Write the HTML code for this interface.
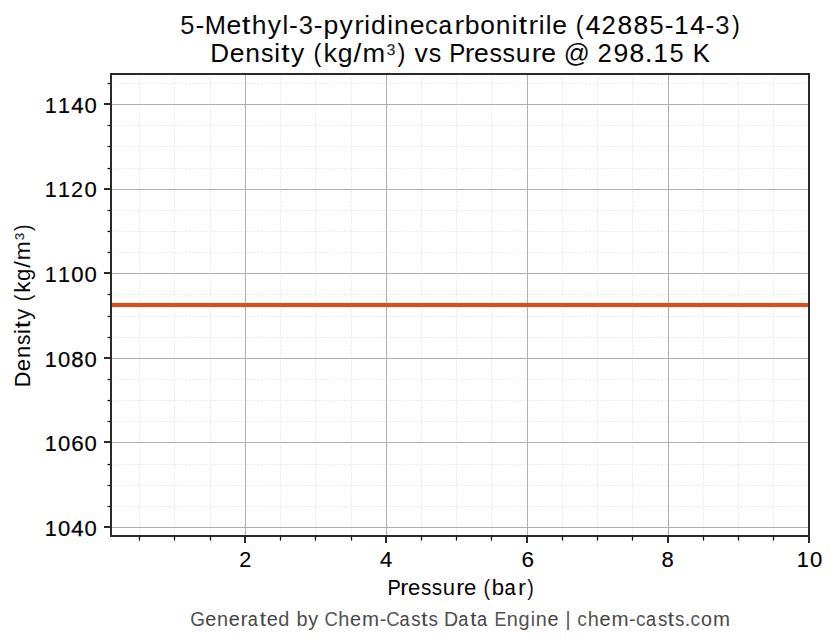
<!DOCTYPE html>
<html><head><meta charset="utf-8"><title>5-Methyl-3-pyridinecarbonitrile Density vs Pressure</title>
<style>
html,body{margin:0;padding:0;background:#fff;width:836px;height:644px;overflow:hidden}
svg{display:block}
</style></head><body>
<svg width="836" height="644" viewBox="0 0 836 644">
<rect width="836" height="644" fill="#fff"/>
<path d="M139.5 536.3V74.3 M174.5 536.3V74.3 M210.5 536.3V74.3 M280.5 536.3V74.3 M315.5 536.3V74.3 M351.5 536.3V74.3 M421.5 536.3V74.3 M456.5 536.3V74.3 M491.5 536.3V74.3 M562.5 536.3V74.3 M597.5 536.3V74.3 M632.5 536.3V74.3 M703.5 536.3V74.3 M738.5 536.3V74.3 M773.5 536.3V74.3" stroke="#dddddd" stroke-width="0.94" stroke-dasharray="0.9375 1.546875" stroke-dashoffset="1.0" fill="none"/>
<path d="M111.04 83.5H808.54 M111.04 125.5H808.54 M111.04 146.5H808.54 M111.04 168.5H808.54 M111.04 210.5H808.54 M111.04 231.5H808.54 M111.04 252.5H808.54 M111.04 294.5H808.54 M111.04 316.5H808.54 M111.04 337.5H808.54 M111.04 379.5H808.54 M111.04 400.5H808.54 M111.04 421.5H808.54 M111.04 464.5H808.54 M111.04 485.5H808.54 M111.04 506.5H808.54" stroke="#dddddd" stroke-width="0.94" stroke-dasharray="0.9375 1.546875" stroke-dashoffset="0.53" fill="none"/>
<path d="M245.5 75V535 M386.5 75V535 M527.5 75V535 M668.5 75V535 M112 104.5H808 M112 189.5H808 M112 273.5H808 M112 358.5H808 M112 442.5H808 M112 527.5H808" stroke="#b0b0b0" stroke-width="1" fill="none"/>
<path d="M112 302h696v1h-696z M112 307h696v1h-696z" fill="#d5501c" fill-opacity="0.0857"/>
<rect x="112" y="303" width="696" height="4" fill="#d5501c"/>
<path d="M110 73h700v2h-700z M110 535h700v2h-700z M110 75h2v460h-2z M808 75h2v460h-2z" fill="#2a2a2a"/>
<path d="M104 103h6v2h-6z M104 188h6v2h-6z M104 272h6v2h-6z M104 357h6v2h-6z M104 441h6v2h-6z M104 526h6v2h-6z M244 537h2v6h-2z M385 537h2v6h-2z M526 537h2v6h-2z M667 537h2v6h-2z M808 537h2v6h-2z" fill="#2a2a2a"/>
<path d="M108 83h2v1h-2z M108 125h2v1h-2z M108 146h2v1h-2z M108 168h2v1h-2z M108 210h2v1h-2z M108 231h2v1h-2z M108 252h2v1h-2z M108 294h2v1h-2z M108 316h2v1h-2z M108 337h2v1h-2z M108 379h2v1h-2z M108 400h2v1h-2z M108 421h2v1h-2z M108 464h2v1h-2z M108 485h2v1h-2z M108 506h2v1h-2z M139 537h1v3h-1z M174 537h1v3h-1z M210 537h1v3h-1z M280 537h1v3h-1z M315 537h1v3h-1z M351 537h1v3h-1z M421 537h1v3h-1z M456 537h1v3h-1z M491 537h1v3h-1z M562 537h1v3h-1z M597 537h1v3h-1z M632 537h1v3h-1z M703 537h1v3h-1z M738 537h1v3h-1z M773 537h1v3h-1z" fill="#000"/>
<path d="M107 83h1v1h-1z M107 125h1v1h-1z M107 146h1v1h-1z M107 168h1v1h-1z M107 210h1v1h-1z M107 231h1v1h-1z M107 252h1v1h-1z M107 294h1v1h-1z M107 316h1v1h-1z M107 337h1v1h-1z M107 379h1v1h-1z M107 400h1v1h-1z M107 421h1v1h-1z M107 464h1v1h-1z M107 485h1v1h-1z M107 506h1v1h-1z M139 540h1v1h-1z M174 540h1v1h-1z M210 540h1v1h-1z M280 540h1v1h-1z M315 540h1v1h-1z M351 540h1v1h-1z M421 540h1v1h-1z M456 540h1v1h-1z M491 540h1v1h-1z M562 540h1v1h-1z M597 540h1v1h-1z M632 540h1v1h-1z M703 540h1v1h-1z M738 540h1v1h-1z M773 540h1v1h-1z" fill="#7f7f7f"/>
<path d="M108 82h2v1h-2z M108 84h2v1h-2z M108 124h2v1h-2z M108 126h2v1h-2z M108 145h2v1h-2z M108 147h2v1h-2z M108 167h2v1h-2z M108 169h2v1h-2z M108 209h2v1h-2z M108 211h2v1h-2z M108 230h2v1h-2z M108 232h2v1h-2z M108 251h2v1h-2z M108 253h2v1h-2z M108 293h2v1h-2z M108 295h2v1h-2z M108 315h2v1h-2z M108 317h2v1h-2z M108 336h2v1h-2z M108 338h2v1h-2z M108 378h2v1h-2z M108 380h2v1h-2z M108 399h2v1h-2z M108 401h2v1h-2z M108 420h2v1h-2z M108 422h2v1h-2z M108 463h2v1h-2z M108 465h2v1h-2z M108 484h2v1h-2z M108 486h2v1h-2z M108 505h2v1h-2z M108 507h2v1h-2z M138 537h1v3h-1z M140 537h1v3h-1z M173 537h1v3h-1z M175 537h1v3h-1z M209 537h1v3h-1z M211 537h1v3h-1z M279 537h1v3h-1z M281 537h1v3h-1z M314 537h1v3h-1z M316 537h1v3h-1z M350 537h1v3h-1z M352 537h1v3h-1z M420 537h1v3h-1z M422 537h1v3h-1z M455 537h1v3h-1z M457 537h1v3h-1z M490 537h1v3h-1z M492 537h1v3h-1z M561 537h1v3h-1z M563 537h1v3h-1z M596 537h1v3h-1z M598 537h1v3h-1z M631 537h1v3h-1z M633 537h1v3h-1z M702 537h1v3h-1z M704 537h1v3h-1z M737 537h1v3h-1z M739 537h1v3h-1z M772 537h1v3h-1z M774 537h1v3h-1z" fill="#dfdfdf"/>
<path d="M107 82h1v1h-1z M107 84h1v1h-1z M107 124h1v1h-1z M107 126h1v1h-1z M107 145h1v1h-1z M107 147h1v1h-1z M107 167h1v1h-1z M107 169h1v1h-1z M107 209h1v1h-1z M107 211h1v1h-1z M107 230h1v1h-1z M107 232h1v1h-1z M107 251h1v1h-1z M107 253h1v1h-1z M107 293h1v1h-1z M107 295h1v1h-1z M107 315h1v1h-1z M107 317h1v1h-1z M107 336h1v1h-1z M107 338h1v1h-1z M107 378h1v1h-1z M107 380h1v1h-1z M107 399h1v1h-1z M107 401h1v1h-1z M107 420h1v1h-1z M107 422h1v1h-1z M107 463h1v1h-1z M107 465h1v1h-1z M107 484h1v1h-1z M107 486h1v1h-1z M107 505h1v1h-1z M107 507h1v1h-1z M138 540h1v1h-1z M140 540h1v1h-1z M173 540h1v1h-1z M175 540h1v1h-1z M209 540h1v1h-1z M211 540h1v1h-1z M279 540h1v1h-1z M281 540h1v1h-1z M314 540h1v1h-1z M316 540h1v1h-1z M350 540h1v1h-1z M352 540h1v1h-1z M420 540h1v1h-1z M422 540h1v1h-1z M455 540h1v1h-1z M457 540h1v1h-1z M490 540h1v1h-1z M492 540h1v1h-1z M561 540h1v1h-1z M563 540h1v1h-1z M596 540h1v1h-1z M598 540h1v1h-1z M631 540h1v1h-1z M633 540h1v1h-1z M702 540h1v1h-1z M704 540h1v1h-1z M737 540h1v1h-1z M739 540h1v1h-1z M772 540h1v1h-1z M774 540h1v1h-1z" fill="#efefef"/>
<text font-family="'Liberation Sans', sans-serif" font-size="26" fill="#000000" stroke="#000000" stroke-width="0" y="34"><tspan x="180.35" textLength="14.15" lengthAdjust="spacingAndGlyphs" fill="#0e0e0e">5</tspan><tspan x="195.58" textLength="8.82" lengthAdjust="spacingAndGlyphs" fill="#0b0b0b">-</tspan><tspan x="204.68" textLength="21.21" lengthAdjust="spacingAndGlyphs" fill="#080808">M</tspan><tspan x="226.44" textLength="14.74" lengthAdjust="spacingAndGlyphs" stroke-width="0.04">e</tspan><tspan x="242.14" textLength="8.25" lengthAdjust="spacingAndGlyphs" stroke-width="0.15">t</tspan><tspan x="251.8" textLength="14.78" lengthAdjust="spacingAndGlyphs" fill="#0d0d0d">h</tspan><tspan x="267.88" textLength="13.21" lengthAdjust="spacingAndGlyphs" fill="#040404">y</tspan><tspan x="282.5" textLength="5.73" lengthAdjust="spacingAndGlyphs" fill="#080808">l</tspan><tspan x="288.94" textLength="8.82" lengthAdjust="spacingAndGlyphs" fill="#0c0c0c">-</tspan><tspan x="298.7" textLength="14.27" lengthAdjust="spacingAndGlyphs" fill="#161616">3</tspan><tspan x="313.87" textLength="8.82" lengthAdjust="spacingAndGlyphs" fill="#0a0a0a">-</tspan><tspan x="323.48" textLength="14.79" lengthAdjust="spacingAndGlyphs">p</tspan><tspan x="339.44" textLength="13.21" lengthAdjust="spacingAndGlyphs" fill="#030303">y</tspan><tspan x="354.17" textLength="9.66" lengthAdjust="spacingAndGlyphs" fill="#0f0f0f">r</tspan><tspan x="364.35" textLength="5.73" lengthAdjust="spacingAndGlyphs" fill="#010101">i</tspan><tspan x="371.07" textLength="14.79" lengthAdjust="spacingAndGlyphs" fill="#050505">d</tspan><tspan x="387.16" textLength="5.73" lengthAdjust="spacingAndGlyphs">i</tspan><tspan x="394.1" textLength="14.73" lengthAdjust="spacingAndGlyphs" fill="#0c0c0c">n</tspan><tspan x="409.7" textLength="14.74" lengthAdjust="spacingAndGlyphs" fill="#020202">e</tspan><tspan x="424.91" textLength="12.77" lengthAdjust="spacingAndGlyphs" fill="#141414">c</tspan><tspan x="438.48" textLength="13.48" lengthAdjust="spacingAndGlyphs" stroke-width="0.11">a</tspan><tspan x="454.5" textLength="9.66" lengthAdjust="spacingAndGlyphs" fill="#111111">r</tspan><tspan x="464.75" textLength="14.79" lengthAdjust="spacingAndGlyphs" fill="#050505">b</tspan><tspan x="480.27" textLength="14.62" lengthAdjust="spacingAndGlyphs" fill="#020202">o</tspan><tspan x="495.83" textLength="14.73" lengthAdjust="spacingAndGlyphs" fill="#0b0b0b">n</tspan><tspan x="511.69" textLength="5.73" lengthAdjust="spacingAndGlyphs" fill="#020202">i</tspan><tspan x="518.71" textLength="8.25" lengthAdjust="spacingAndGlyphs" stroke-width="0.07">t</tspan><tspan x="528.53" textLength="9.66" lengthAdjust="spacingAndGlyphs" fill="#111111">r</tspan><tspan x="538.71" textLength="5.73" lengthAdjust="spacingAndGlyphs" fill="#020202">i</tspan><tspan x="545.65" textLength="5.73" lengthAdjust="spacingAndGlyphs" fill="#090909">l</tspan><tspan x="552.35" textLength="14.74" lengthAdjust="spacingAndGlyphs" fill="#020202">e</tspan> <tspan x="575.68" textLength="7.85" lengthAdjust="spacingAndGlyphs" fill="#040404">(</tspan><tspan x="585.73" textLength="14.56" lengthAdjust="spacingAndGlyphs" stroke-width="0.17">4</tspan><tspan x="601.44" textLength="14.29" lengthAdjust="spacingAndGlyphs" fill="#080808">2</tspan><tspan x="617.5" textLength="14.64" lengthAdjust="spacingAndGlyphs" stroke-width="0.13">8</tspan><tspan x="633.41" textLength="14.64" lengthAdjust="spacingAndGlyphs" stroke-width="0.13">8</tspan><tspan x="649.46" textLength="14.15" lengthAdjust="spacingAndGlyphs" fill="#0d0d0d">5</tspan><tspan x="664.7" textLength="8.82" lengthAdjust="spacingAndGlyphs" fill="#0b0b0b">-</tspan><tspan x="674.32" textLength="14.23" lengthAdjust="spacingAndGlyphs" stroke-width="0.09">1</tspan><tspan x="690.18" textLength="14.56" lengthAdjust="spacingAndGlyphs" stroke-width="0.19">4</tspan><tspan x="705.53" textLength="8.82" lengthAdjust="spacingAndGlyphs" fill="#0b0b0b">-</tspan><tspan x="715.29" textLength="14.27" lengthAdjust="spacingAndGlyphs" fill="#161616">3</tspan><tspan x="731.89" textLength="7.85" lengthAdjust="spacingAndGlyphs" fill="#050505">)</tspan></text>
<text font-family="'Liberation Sans', sans-serif" font-size="26" fill="#000000" stroke="#000000" stroke-width="0" y="62"><tspan x="210.35" fill="#030303">D</tspan><tspan x="229.67" textLength="14.74" lengthAdjust="spacingAndGlyphs" fill="#010101">e</tspan><tspan x="245.29" textLength="14.73" lengthAdjust="spacingAndGlyphs" fill="#0b0b0b">n</tspan><tspan x="260.96" textLength="12.49" lengthAdjust="spacingAndGlyphs" fill="#040404">s</tspan><tspan x="274.17" textLength="5.73" lengthAdjust="spacingAndGlyphs">i</tspan><tspan x="281.19" textLength="8.25" lengthAdjust="spacingAndGlyphs" stroke-width="0.05">t</tspan><tspan x="291.08" textLength="13.21" lengthAdjust="spacingAndGlyphs" fill="#030303">y</tspan> <tspan x="313.4" textLength="7.85" lengthAdjust="spacingAndGlyphs" fill="#050505">(</tspan><tspan x="323.46" textLength="13.49" lengthAdjust="spacingAndGlyphs" fill="#0d0d0d">k</tspan><tspan x="337.66" textLength="14.79" lengthAdjust="spacingAndGlyphs" fill="#070707">g</tspan><tspan x="353.44" textLength="7.82" lengthAdjust="spacingAndGlyphs" fill="#030303">/</tspan><tspan x="362.46" textLength="22.69" lengthAdjust="spacingAndGlyphs" fill="#0a0a0a">m</tspan><tspan x="386.71" textLength="8.52" lengthAdjust="spacingAndGlyphs" fill="#303030">³</tspan><tspan x="397.48" textLength="7.85" lengthAdjust="spacingAndGlyphs" fill="#050505">)</tspan> <tspan x="414.41" textLength="13.25" lengthAdjust="spacingAndGlyphs" fill="#010101">v</tspan><tspan x="428.87" textLength="12.49" lengthAdjust="spacingAndGlyphs" fill="#040404">s</tspan> <tspan x="449.36" textLength="16.04" lengthAdjust="spacingAndGlyphs" fill="#010101">P</tspan><tspan x="464.7" textLength="9.66" lengthAdjust="spacingAndGlyphs" fill="#131313">r</tspan><tspan x="474.13" textLength="14.74" lengthAdjust="spacingAndGlyphs" stroke-width="0.04">e</tspan><tspan x="489.57" textLength="12.49" lengthAdjust="spacingAndGlyphs" fill="#040404">s</tspan><tspan x="502.6" textLength="12.49" lengthAdjust="spacingAndGlyphs" fill="#040404">s</tspan><tspan x="515.69" textLength="14.73" lengthAdjust="spacingAndGlyphs" fill="#0d0d0d">u</tspan><tspan x="531.75" textLength="9.66" lengthAdjust="spacingAndGlyphs" fill="#0f0f0f">r</tspan><tspan x="541.18" textLength="14.74" lengthAdjust="spacingAndGlyphs" stroke-width="0.08">e</tspan> <tspan x="563.64" textLength="26.10" lengthAdjust="spacingAndGlyphs" fill="#0b0b0b">@</tspan> <tspan x="597.55" textLength="14.29" lengthAdjust="spacingAndGlyphs" fill="#080808">2</tspan><tspan x="613.46" textLength="14.80" lengthAdjust="spacingAndGlyphs" fill="#050505">9</tspan><tspan x="629.52" textLength="14.64" lengthAdjust="spacingAndGlyphs" stroke-width="0.13">8</tspan><tspan x="645.08" textLength="7.37" lengthAdjust="spacingAndGlyphs" stroke-width="0.19">.</tspan><tspan x="653.46" textLength="14.23" lengthAdjust="spacingAndGlyphs" stroke-width="0.07">1</tspan><tspan x="669.43" textLength="14.15" lengthAdjust="spacingAndGlyphs" fill="#0d0d0d">5</tspan> <tspan x="692.75" textLength="17.08" lengthAdjust="spacingAndGlyphs" stroke-width="0.09">K</tspan></text>
<text font-family="'Liberation Sans', sans-serif" font-size="21.67" fill="#000000" stroke="#000000" stroke-width="0" y="595"><tspan x="387.42" textLength="13.37" lengthAdjust="spacingAndGlyphs">P</tspan><tspan x="400.27" textLength="8.05" lengthAdjust="spacingAndGlyphs" fill="#010101">r</tspan><tspan x="408.06" textLength="12.28" lengthAdjust="spacingAndGlyphs" fill="#040404">e</tspan><tspan x="420.96" textLength="10.41" lengthAdjust="spacingAndGlyphs" fill="#0b0b0b">s</tspan><tspan x="431.83" textLength="10.41" lengthAdjust="spacingAndGlyphs" fill="#0a0a0a">s</tspan><tspan x="442.77" textLength="12.27" lengthAdjust="spacingAndGlyphs" fill="#060606">u</tspan><tspan x="456.18" textLength="8.05" lengthAdjust="spacingAndGlyphs" stroke-width="0.07">r</tspan><tspan x="463.97" textLength="12.28" lengthAdjust="spacingAndGlyphs" fill="#040404">e</tspan> <tspan x="483.44" textLength="6.54" lengthAdjust="spacingAndGlyphs" fill="#161616">(</tspan><tspan x="491.86" textLength="12.33" lengthAdjust="spacingAndGlyphs" fill="#070707">b</tspan><tspan x="504.55" textLength="11.23" lengthAdjust="spacingAndGlyphs" stroke-width="0.07">a</tspan><tspan x="517.92" textLength="8.05" lengthAdjust="spacingAndGlyphs" fill="#0e0e0e">r</tspan><tspan x="527.19" textLength="6.54" lengthAdjust="spacingAndGlyphs" fill="#151515">)</tspan></text>
<text font-family="'Liberation Sans', sans-serif" font-size="19.5" fill="#444444" stroke="#444444" stroke-width="0" y="626"><tspan x="190.35" textLength="14.70" lengthAdjust="spacingAndGlyphs" fill="#505050">G</tspan><tspan x="205.26" textLength="11.05" lengthAdjust="spacingAndGlyphs" stroke-width="0.03">e</tspan><tspan x="216.97" textLength="11.04" lengthAdjust="spacingAndGlyphs" fill="#4c4c4c">n</tspan><tspan x="228.67" textLength="11.05" lengthAdjust="spacingAndGlyphs" stroke-width="0.08">e</tspan><tspan x="240.47" textLength="7.25" lengthAdjust="spacingAndGlyphs" fill="#4d4d4d">r</tspan><tspan x="247.65" textLength="10.11" lengthAdjust="spacingAndGlyphs" fill="#474747">a</tspan><tspan x="259.65" textLength="6.19" lengthAdjust="spacingAndGlyphs" stroke-width="0.08">t</tspan><tspan x="266.76" textLength="11.05" lengthAdjust="spacingAndGlyphs" stroke-width="0.03">e</tspan><tspan x="278.31" textLength="11.09" lengthAdjust="spacingAndGlyphs" fill="#4f4f4f">d</tspan> <tspan x="296.4" textLength="11.09" lengthAdjust="spacingAndGlyphs" fill="#4d4d4d">b</tspan><tspan x="308.37" textLength="9.91" lengthAdjust="spacingAndGlyphs" fill="#4b4b4b">y</tspan> <tspan x="324.62" textLength="13.33" lengthAdjust="spacingAndGlyphs" fill="#585858">C</tspan><tspan x="338.34" textLength="11.08" lengthAdjust="spacingAndGlyphs" fill="#525252">h</tspan><tspan x="350.09" textLength="11.05" lengthAdjust="spacingAndGlyphs" stroke-width="0.04">e</tspan><tspan x="362.02" textLength="17.02" lengthAdjust="spacingAndGlyphs" fill="#484848">m</tspan><tspan x="379.69" textLength="6.61" lengthAdjust="spacingAndGlyphs" fill="#555555">-</tspan><tspan x="386.16" textLength="13.33" lengthAdjust="spacingAndGlyphs" fill="#585858">C</tspan><tspan x="399.49" textLength="10.11" lengthAdjust="spacingAndGlyphs" fill="#464646">a</tspan><tspan x="411.29" textLength="9.37" lengthAdjust="spacingAndGlyphs" fill="#4b4b4b">s</tspan><tspan x="421.25" textLength="6.19" lengthAdjust="spacingAndGlyphs" stroke-width="0.11">t</tspan><tspan x="428.41" textLength="9.37" lengthAdjust="spacingAndGlyphs" fill="#4d4d4d">s</tspan> <tspan x="444.04" fill="#4e4e4e">D</tspan><tspan x="458.26" textLength="10.11" lengthAdjust="spacingAndGlyphs" fill="#464646">a</tspan><tspan x="470.26" textLength="6.19" lengthAdjust="spacingAndGlyphs" stroke-width="0.04">t</tspan><tspan x="477.1" textLength="10.11" lengthAdjust="spacingAndGlyphs" fill="#464646">a</tspan> <tspan x="494.47" textLength="11.92" lengthAdjust="spacingAndGlyphs" fill="#545454">E</tspan><tspan x="506.85" textLength="11.04" lengthAdjust="spacingAndGlyphs" fill="#4d4d4d">n</tspan><tspan x="518.57" textLength="11.09" lengthAdjust="spacingAndGlyphs" fill="#515151">g</tspan><tspan x="530.64" textLength="4.30" lengthAdjust="spacingAndGlyphs" fill="#545454">i</tspan><tspan x="535.84" textLength="11.04" lengthAdjust="spacingAndGlyphs" fill="#4d4d4d">n</tspan><tspan x="547.54" textLength="11.05" lengthAdjust="spacingAndGlyphs" stroke-width="0.03">e</tspan> <tspan x="565.41" textLength="5.03" lengthAdjust="spacingAndGlyphs" fill="#525252">|</tspan> <tspan x="577.18" textLength="9.58" lengthAdjust="spacingAndGlyphs" fill="#5b5b5b">c</tspan><tspan x="587.76" textLength="11.08" lengthAdjust="spacingAndGlyphs" fill="#535353">h</tspan><tspan x="599.51" textLength="11.05" lengthAdjust="spacingAndGlyphs" stroke-width="0.09">e</tspan><tspan x="611.44" textLength="17.02" lengthAdjust="spacingAndGlyphs" fill="#494949">m</tspan><tspan x="629.11" textLength="6.61" lengthAdjust="spacingAndGlyphs" fill="#565656">-</tspan><tspan x="635.94" textLength="9.58" lengthAdjust="spacingAndGlyphs" fill="#5c5c5c">c</tspan><tspan x="646.12" textLength="10.11" lengthAdjust="spacingAndGlyphs" fill="#474747">a</tspan><tspan x="657.92" textLength="9.37" lengthAdjust="spacingAndGlyphs" fill="#4a4a4a">s</tspan><tspan x="667.88" textLength="6.19" lengthAdjust="spacingAndGlyphs" stroke-width="0.08">t</tspan><tspan x="675.04" textLength="9.37" lengthAdjust="spacingAndGlyphs" fill="#4e4e4e">s</tspan><tspan x="684.69" textLength="5.53" lengthAdjust="spacingAndGlyphs" fill="#525252">.</tspan><tspan x="690.59" textLength="9.58" lengthAdjust="spacingAndGlyphs" fill="#5a5a5a">c</tspan><tspan x="701.01" textLength="10.97" lengthAdjust="spacingAndGlyphs" fill="#484848">o</tspan><tspan x="712.9" textLength="17.02" lengthAdjust="spacingAndGlyphs" fill="#484848">m</tspan></text>
<text font-family="'Liberation Sans', sans-serif" font-size="21.67" fill="#000000" stroke="#000000" stroke-width="0" transform="rotate(-90)" y="30"><tspan x="-387.29" stroke-width="0.05">D</tspan><tspan x="-371.16" textLength="12.28" lengthAdjust="spacingAndGlyphs" fill="#020202">e</tspan><tspan x="-358.12" textLength="12.27" lengthAdjust="spacingAndGlyphs" stroke-width="0.02">n</tspan><tspan x="-345.03" textLength="10.41" lengthAdjust="spacingAndGlyphs" fill="#0b0b0b">s</tspan><tspan x="-334" textLength="4.77" lengthAdjust="spacingAndGlyphs" stroke-width="0.14">i</tspan><tspan x="-328.14" textLength="6.88" lengthAdjust="spacingAndGlyphs" stroke-width="0.15">t</tspan><tspan x="-319.88" textLength="11.01" lengthAdjust="spacingAndGlyphs" fill="#141414">y</tspan> <tspan x="-301.24" textLength="6.54" lengthAdjust="spacingAndGlyphs" fill="#171717">(</tspan><tspan x="-292.85" textLength="11.24" lengthAdjust="spacingAndGlyphs" stroke-width="0.09">k</tspan><tspan x="-280.99" textLength="12.32" lengthAdjust="spacingAndGlyphs" fill="#080808">g</tspan><tspan x="-267.81" textLength="6.52" lengthAdjust="spacingAndGlyphs" stroke-width="0.14">/</tspan><tspan x="-260.28" textLength="18.91" lengthAdjust="spacingAndGlyphs" fill="#0b0b0b">m</tspan><tspan x="-240.03" textLength="7.10" lengthAdjust="spacingAndGlyphs" fill="#2f2f2f">³</tspan><tspan x="-231.04" textLength="6.54" lengthAdjust="spacingAndGlyphs" fill="#171717">)</tspan></text>
<text font-family="'Liberation Sans', sans-serif" font-size="22.08" fill="#000000" stroke="#000000" stroke-width="0" y="113"><tspan x="44.74" textLength="11.97" lengthAdjust="spacingAndGlyphs" stroke-width="0.14">1</tspan><tspan x="58.02" textLength="11.97" lengthAdjust="spacingAndGlyphs" stroke-width="0.22">1</tspan><tspan x="71.27" stroke-width="0.34">4</tspan><tspan x="84.55" stroke-width="0.16">0</tspan></text>
<text font-family="'Liberation Sans', sans-serif" font-size="22.08" fill="#000000" stroke="#000000" stroke-width="0" y="197"><tspan x="44.74" textLength="11.97" lengthAdjust="spacingAndGlyphs" stroke-width="0.14">1</tspan><tspan x="58.02" textLength="11.97" lengthAdjust="spacingAndGlyphs" stroke-width="0.14">1</tspan><tspan x="71.11" textLength="12.03" lengthAdjust="spacingAndGlyphs" stroke-width="0.03">2</tspan><tspan x="84.55" stroke-width="0.16">0</tspan></text>
<text font-family="'Liberation Sans', sans-serif" font-size="22.08" fill="#000000" stroke="#000000" stroke-width="0" y="282"><tspan x="44.74" textLength="11.97" lengthAdjust="spacingAndGlyphs" stroke-width="0.14">1</tspan><tspan x="58.02" textLength="11.97" lengthAdjust="spacingAndGlyphs" stroke-width="0.15">1</tspan><tspan x="71.27" stroke-width="0.32">0</tspan><tspan x="84.55" stroke-width="0.16">0</tspan></text>
<text font-family="'Liberation Sans', sans-serif" font-size="22.08" fill="#000000" stroke="#000000" stroke-width="0" y="367"><tspan x="44.74" textLength="11.97" lengthAdjust="spacingAndGlyphs" stroke-width="0.22">1</tspan><tspan x="57.99" stroke-width="0.15">0</tspan><tspan x="71.24" stroke-width="0.30">8</tspan><tspan x="84.55" stroke-width="0.16">0</tspan></text>
<text font-family="'Liberation Sans', sans-serif" font-size="22.08" fill="#000000" stroke="#000000" stroke-width="0" y="451"><tspan x="44.74" textLength="11.97" lengthAdjust="spacingAndGlyphs" stroke-width="0.22">1</tspan><tspan x="57.99" stroke-width="0.15">0</tspan><tspan x="71.17" textLength="12.46" lengthAdjust="spacingAndGlyphs" stroke-width="0.21">6</tspan><tspan x="84.55" stroke-width="0.16">0</tspan></text>
<text font-family="'Liberation Sans', sans-serif" font-size="22.08" fill="#000000" stroke="#000000" stroke-width="0" y="536"><tspan x="44.74" textLength="11.97" lengthAdjust="spacingAndGlyphs" stroke-width="0.22">1</tspan><tspan x="57.99" stroke-width="0.19">0</tspan><tspan x="71.27" stroke-width="0.34">4</tspan><tspan x="84.55" stroke-width="0.16">0</tspan></text>
<text font-family="'Liberation Sans', sans-serif" font-size="22.08" fill="#000000" stroke="#000000" stroke-width="0" y="567"><tspan x="239.31" textLength="12.03" lengthAdjust="spacingAndGlyphs" stroke-width="0.03">2</tspan></text>
<text font-family="'Liberation Sans', sans-serif" font-size="22.08" fill="#000000" stroke="#000000" stroke-width="0" y="567"><tspan x="379.98" stroke-width="0.21">4</tspan></text>
<text font-family="'Liberation Sans', sans-serif" font-size="22.08" fill="#000000" stroke="#000000" stroke-width="0" y="567"><tspan x="521.44" textLength="12.46" lengthAdjust="spacingAndGlyphs" stroke-width="0.11">6</tspan></text>
<text font-family="'Liberation Sans', sans-serif" font-size="22.08" fill="#000000" stroke="#000000" stroke-width="0" y="567"><tspan x="661.55" stroke-width="0.15">8</tspan></text>
<text font-family="'Liberation Sans', sans-serif" font-size="22.08" fill="#000000" stroke="#000000" stroke-width="0" y="567"><tspan x="796.74" textLength="11.97" lengthAdjust="spacingAndGlyphs" stroke-width="0.22">1</tspan><tspan x="809.99" stroke-width="0.15">0</tspan></text>
</svg>
</body></html>
